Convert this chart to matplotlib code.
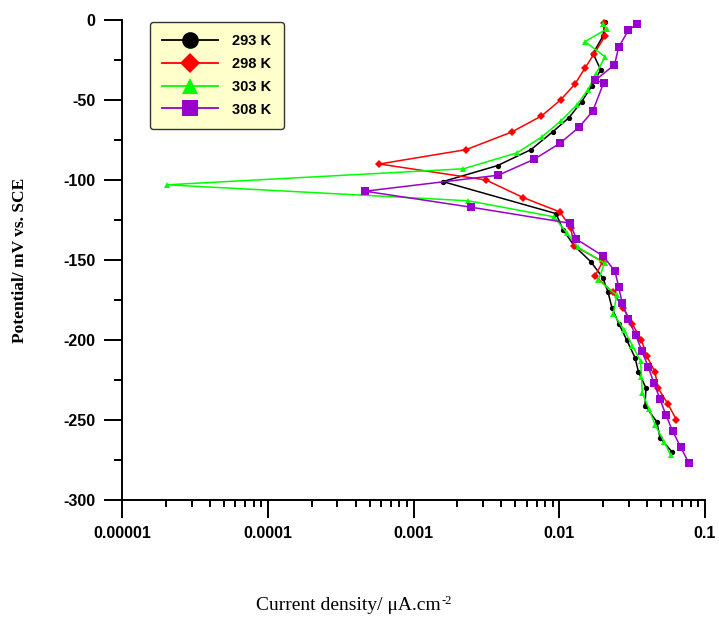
import matplotlib.pyplot as plt
from matplotlib.lines import Line2D
from matplotlib.ticker import MultipleLocator, LogLocator, NullFormatter

plt.rcParams['font.family'] = ['Liberation Sans', 'DejaVu Sans']
plt.rcParams['axes.unicode_minus'] = False

# current density (uA/cm2) and potential (mV vs SCE)
i_293 = [0.02060, 0.01996, 0.01705, 0.01925, 0.01678, 0.01426, 0.01167, 0.00899, 0.00640,
         0.00377, 0.00159, 0.00950, 0.01061, 0.01263, 0.01643, 0.01987, 0.02160, 0.02301,
         0.02570, 0.02903, 0.03309, 0.03497, 0.03937, 0.03875, 0.04663, 0.04913, 0.05937]
e_293 = [-1, -10, -21, -31, -41, -51, -61, -70, -81, -91, -101, -121, -131, -141, -151,
         -161, -170, -180, -190, -200, -211, -220, -230, -241, -251, -261, -270]

i_298 = [0.02028, 0.02060, 0.01740, 0.01502, 0.01283, 0.01020, 0.00755, 0.00472, 0.00230,
         0.000583, 0.00314, 0.00567, 0.01012, 0.01204, 0.01256, 0.01987, 0.01759, 0.02326,
         0.02750, 0.03171, 0.03667, 0.03981, 0.04539, 0.04759, 0.05573, 0.06374]
e_298 = [-2, -10, -21, -30, -40, -50, -60, -70, -81, -90, -100, -111, -120, -130, -141,
         -151, -160, -170, -180, -190, -200, -210, -220, -230, -240, -250]

i_303 = [0.01996, 0.02126, 0.01502, 0.02060, 0.01787, 0.01575, 0.01323, 0.01028, 0.00761,
         0.00513, 0.00220, 0.00002035, 0.00238, 0.00920, 0.01125, 0.01344, 0.02044, 0.01859,
         0.02479, 0.02349, 0.02781, 0.03171, 0.03610, 0.03667, 0.03714, 0.04128, 0.04539,
         0.05233, 0.05817]
e_303 = [-2.5, -5.5, -13.5, -23, -33.5, -43.5, -53, -63, -73, -83, -93, -103, -113, -123,
         -133, -142, -152, -162.5, -172, -183.5, -193.5, -203.5, -213, -223, -233, -243,
         -253, -263.5, -272]

i_308 = [0.03400, 0.02978, 0.02558, 0.02393, 0.01773, 0.02012, 0.01697, 0.01366, 0.01012,
         0.00674, 0.00382, 0.000465, 0.00248, 0.01185, 0.01313, 0.01996, 0.02412, 0.02558,
         0.02707, 0.02978, 0.03346, 0.03697, 0.04083, 0.04467, 0.04913, 0.05401, 0.06003,
         0.06812, 0.07766]
e_308 = [-2.5, -6.5, -17, -28, -37.5, -39.5, -57, -67, -77, -87, -97, -107, -117, -127,
         -137, -147.5, -157, -167, -177, -187, -197, -207, -217, -227, -237, -247, -257,
         -267, -277]

labels = ['293 K', '298 K', '303 K', '308 K']
x_ticks = [0.00001, 0.0001, 0.001, 0.01, 0.1]
x_tick_labels = ['0.00001', '0.0001', '0.001', '0.01', '0.1']

fig = plt.figure(figsize=(7.19, 6.17), dpi=100)
ax = fig.add_axes([122 / 719, 117 / 617, 583 / 719, 480 / 617])

series = [
    (i_293, e_293, 'black', 'o', 3.8, 12),
    (i_298, e_298, '#FF0000', 'D', 3.6, 10),
    (i_303, e_303, '#00FF00', '^', 5.0, 11),
    (i_308, e_308, '#9900CC', 's', 5.5, 12),
]

handles = []
for (x, y, c, m, ms, lms), lab in zip(series, labels):
    ax.plot(x, y, color=c, marker=m, markersize=ms, linewidth=1.1,
            markeredgewidth=0, clip_on=False)
    handles.append(Line2D([], [], color=c, marker=m, markersize=lms,
                          linewidth=1.3, markeredgewidth=0))

ax.set_xscale('log')
ax.set_xlim(1e-5, 1e-1)
ax.set_ylim(-300, 0)

ax.set_xticks(x_ticks)
ax.set_xticklabels(x_tick_labels)
ax.xaxis.set_minor_locator(LogLocator(base=10, subs=range(2, 10)))
ax.xaxis.set_minor_formatter(NullFormatter())
ax.yaxis.set_major_locator(MultipleLocator(50))
ax.yaxis.set_minor_locator(MultipleLocator(25))

for s in ['top', 'right']:
    ax.spines[s].set_visible(False)
for s in ['left', 'bottom']:
    ax.spines[s].set_linewidth(1.4)

ax.tick_params(axis='both', which='major', direction='out', length=13, width=1.4,
               labelsize=11.5, pad=6)
ax.tick_params(axis='y', which='minor', direction='out', length=6, width=1.4)
ax.tick_params(axis='x', which='minor', direction='out', length=5, width=1.4)
for t in ax.get_xticklabels() + ax.get_yticklabels():
    t.set_fontweight('bold')

leg = ax.legend(handles, labels, loc='upper left', bbox_to_anchor=(0.048, 0.996),
                borderaxespad=0, handlelength=3.8, labelspacing=0.6,
                prop={'weight': 'bold', 'size': 10.5}, fancybox=True,
                borderpad=0.85, handletextpad=1.0, framealpha=1)
leg.get_frame().set_facecolor('#FFFFCC')
leg.get_frame().set_edgecolor('#333333')
leg.get_frame().set_linewidth(1.0)

fig.text(20 / 719, 1 - 260 / 617, 'Potential/ mV vs. SCE', rotation=90,
         ha='center', va='center', family='Liberation Serif', weight='bold', size=12.5)
xl = fig.text(348 / 719, 1 - 605 / 617, 'Current density/ μA.cm',
              ha='center', va='center', family='Liberation Serif', size=14)
ax.annotate('-2', xy=(1, 1), xycoords=xl, xytext=(0.5, 1), textcoords='offset points',
            ha='left', va='top', family='Liberation Serif', size=9, annotation_clip=False)

fig.savefig('out.png', dpi=100)
